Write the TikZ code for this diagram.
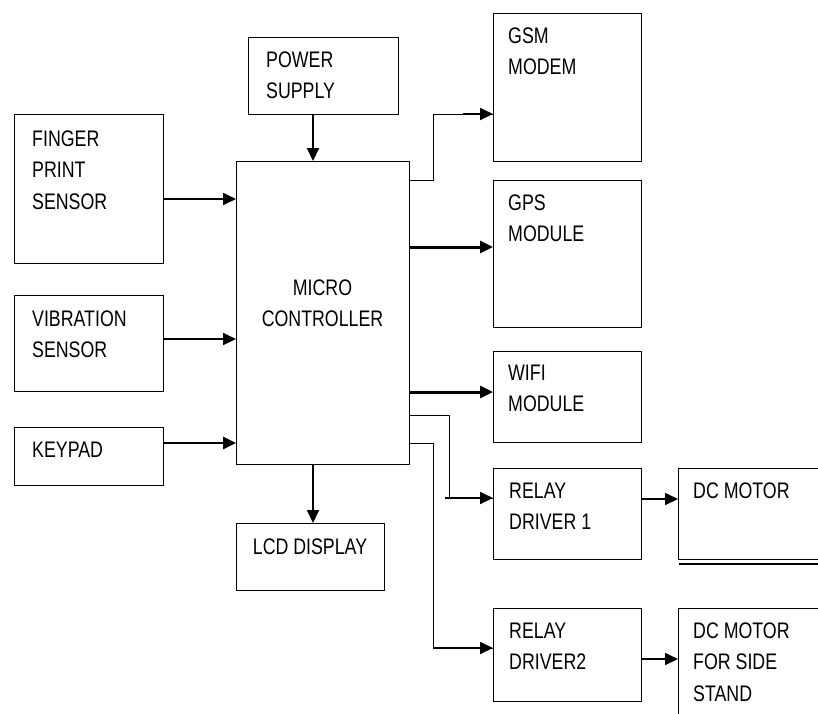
\documentclass[tikz,border=0pt]{standalone}
\usepackage{fontspec}
\setmainfont[FakeStretch=0.79]{Liberation Sans}
\usetikzlibrary{arrows.meta}
\newcommand\blines[1]{\begin{tabular}[t]{@{}l@{}}#1\end{tabular}}
\newcommand\clines[1]{\begin{tabular}[t]{@{}c@{}}#1\end{tabular}}
\begin{document}
\begin{tikzpicture}[x=1pt,y=-1pt,
  box/.style={draw, line width=1pt, inner sep=0pt, outer sep=0pt, anchor=north west},
  txt/.style={inner sep=0pt, anchor=base west, font=\fontsize{22.5}{31.5}\selectfont},
  ctxt/.style={inner sep=0pt, anchor=base, font=\fontsize{22.5}{31.5}\selectfont},
  thin/.style={line width=1pt},
  arr/.style={line width=1.8pt, -{Triangle[length=13pt,width=12pt]}},
  arrthick/.style={line width=3pt, -{Triangle[length=13pt,width=12pt]}}]
\useasboundingbox (0,0) rectangle (818,713);
\clip (0,0) rectangle (818,713);
% boxes
\node[box, minimum width=150pt, minimum height=77pt] (power) at (248,37) {};
\node[box, minimum width=149pt, minimum height=149pt] (finger) at (14,114) {};
\node[box, minimum width=149pt, minimum height=96pt] (vib) at (14,295) {};
\node[box, minimum width=149pt, minimum height=58pt] (key) at (14,427) {};
\node[box, minimum width=173pt, minimum height=303pt] (mc) at (236,161) {};
\node[box, minimum width=148pt, minimum height=67pt] (lcd) at (236,523) {};
\node[box, minimum width=148pt, minimum height=148pt] (gsm) at (493,13) {};
\node[box, minimum width=148pt, minimum height=147pt] (gps) at (493,180) {};
\node[box, minimum width=148pt, minimum height=91pt] (wifi) at (493,351) {};
\node[box, minimum width=148pt, minimum height=91pt] (r1) at (493,468) {};
\node[box, minimum width=160pt, minimum height=91pt] (dc1) at (678,468) {};
\node[box, minimum width=148pt, minimum height=93pt] (r2) at (493,608) {};
\node[box, minimum width=160pt, minimum height=130pt] (dc2) at (678,608) {};
% texts
\node[txt] (powerT) at (266,67) {\blines{POWER\\SUPPLY}};
\node[txt] (fingerT) at (32,146) {\blines{FINGER\\PRINT\\SENSOR}};
\node[txt] (vibT) at (32,326) {\blines{VIBRATION\\SENSOR}};
\node[txt] (keyT) at (32,457) {KEYPAD};
\node[ctxt] (mcT) at (322.5,295) {\clines{MICRO\\CONTROLLER}};
\node[ctxt] (lcdT) at (310,554) {LCD DISPLAY};
\node[txt] (gsmT) at (508,43) {\blines{GSM\\MODEM}};
\node[txt] (gpsT) at (508,210) {\blines{GPS\\MODULE}};
\node[txt] (wifiT) at (508,380) {\blines{WIFI\\MODULE}};
\node[txt] (r1T) at (509,498) {\blines{RELAY\\DRIVER 1}};
\node[txt] (dc1T) at (693,498) {DC MOTOR};
\node[txt] (r2T) at (509,638) {\blines{RELAY\\DRIVER2}};
\node[txt] (dc2T) at (693,638) {\blines{DC MOTOR\\FOR SIDE\\STAND}};
% connectors
\draw[arr] ([xshift=-10pt]power.south) -- ([xshift=-10pt]power.south |- mc.north);
\draw[arr] ([yshift=-10.5pt]finger.east) -- ([yshift=-10.5pt]finger.east -| mc.west);
\draw[arr] ([yshift=4pt]vib.east) -- ([yshift=4pt]vib.east -| mc.west);
\draw[line width=2.6pt, -{Triangle[length=13pt,width=12pt]}] ([yshift=13pt]key.east) -- ([yshift=13pt]key.east -| mc.west);
\draw[arr] ([xshift=-9.5pt]mc.south) -- ([xshift=-9.5pt]mc.south |- lcd.north);
\draw[thin] ([yshift=132.5pt]mc.east) -- ++(24,0) |- ([yshift=-27pt]gsm.west);
\draw[arr] ([yshift=-27pt,xshift=-30pt]gsm.west) -- ([yshift=-27pt]gsm.west);
\draw[arrthick] ([yshift=6.5pt]gps.west -| mc.east) -- ([yshift=6.5pt]gps.west);
\draw[arrthick] ([yshift=4.5pt]wifi.west -| mc.east) -- ([yshift=4.5pt]wifi.west);
\draw[thin] ([yshift=-102.5pt]mc.east) -- ++(40,0) |- ([yshift=15.5pt]r1.west);
\draw[arr] ([yshift=15.5pt,xshift=-48pt]r1.west) -- ([yshift=15.5pt]r1.west);
\draw[thin] ([yshift=-130.5pt]mc.east) -- ++(24,0) |- ([yshift=6.5pt]r2.west);
\draw[arr] ([yshift=6.5pt,xshift=-60pt]r2.west) -- ([yshift=6.5pt]r2.west);
\draw[arr] ([yshift=14.5pt]r1.east) -- ([yshift=14.5pt]dc1.west);
\draw[arr] ([yshift=-4.5pt]r2.east) -- ([yshift=-4.5pt]r2.east -| dc2.west);
\draw[line width=1.8pt] ([yshift=-5pt,xshift=1pt]dc1.south west) -- ([yshift=-5pt]dc1.south east);
\end{tikzpicture}
\end{document}
